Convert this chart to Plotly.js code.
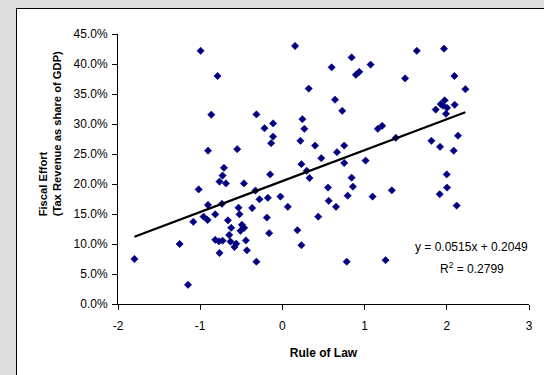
<!DOCTYPE html>
<html>
<head>
<meta charset="utf-8">
<script src="https://cdn.plot.ly/plotly-3.0.1.min.js"></script>
<style>
  html, body { margin: 0; padding: 0; width: 544px; height: 375px; overflow: hidden; background: #dedede; }
  #frame { position: absolute; left: 16px; top: 8px; width: 540px; height: 380px; background: #ffffff;
           border-left: 1px solid #000; border-top: 1px solid #000; }
  #chart { position: absolute; left: 0; top: 0; }
</style>
</head>
<body>
<div id="frame"><div id="chart"></div></div>
<script>
// Rule of Law index (x) and tax revenue as share of GDP (y)
const ruleOfLaw = [
  -0.995, 0.154, -0.789, 0.320, -0.865, -0.316, -0.113, -0.218, 0.243, 0.267,
  -0.113, -0.137, 0.219, -0.905, -0.550, -0.711, 0.231, 0.842, 0.599, 1.635,
  1.966, 1.073, 0.894, 0.935, 1.493, 2.092, 2.226, 0.640, 0.728, 0.397,
  0.473, 0.664, 0.752, 0.752, 1.012, 1.161, 1.214, 1.380, 1.813, 1.918,
  2.084, 2.136, 1.865, 1.926, 1.974, 1.954, 2.003, 1.990, 2.096, -0.728,
  -0.765, -0.687, -1.019, -0.468, -0.149, -0.328, 0.296, 0.330, -0.905, -0.735,
  -0.817, -0.959, -0.910, -1.084, -0.534, -0.522, -0.368, -0.279, -0.177, -0.024,
  0.066, -0.189, -0.161, 0.182, 0.231, -0.663, -0.623, -0.493, -0.465, -0.510,
  -0.647, -0.631, -0.817, -0.772, -0.728, -0.562, -0.583, -0.444, -0.432, -0.765,
  -0.316, -1.250, -1.800, -1.148, 0.436, 0.555, 0.842, 0.858, 0.794, 0.563,
  0.652, 1.097, 1.331, 1.999, 2.003, 1.914, 2.120, 0.782, 1.255
];
const fiscalEffort = [
  0.422, 0.430, 0.380, 0.359, 0.3155, 0.316, 0.301, 0.293, 0.308, 0.292,
  0.279, 0.268, 0.272, 0.2555, 0.258, 0.227, 0.233, 0.411, 0.3945, 0.422,
  0.4255, 0.399, 0.382, 0.387, 0.376, 0.380, 0.358, 0.3405, 0.322, 0.264,
  0.243, 0.253, 0.264, 0.235, 0.239, 0.292, 0.297, 0.277, 0.272, 0.262,
  0.2555, 0.2805, 0.324, 0.333, 0.3395, 0.3305, 0.327, 0.317, 0.332, 0.214,
  0.204, 0.201, 0.191, 0.201, 0.216, 0.189, 0.222, 0.210, 0.165, 0.167,
  0.1495, 0.1455, 0.140, 0.137, 0.1605, 0.1495, 0.160, 0.1745, 0.177, 0.179,
  0.162, 0.144, 0.118, 0.123, 0.098, 0.1395, 0.127, 0.132, 0.127, 0.122,
  0.115, 0.104, 0.107, 0.1045, 0.1055, 0.1005, 0.095, 0.106, 0.0895, 0.085,
  0.0705, 0.100, 0.075, 0.032, 0.1455, 0.194, 0.2105, 0.1955, 0.1805, 0.172,
  0.162, 0.179, 0.1895, 0.216, 0.194, 0.183, 0.164, 0.0705, 0.073
];
// Linear trend line as printed on the chart
const trendSlope = 0.0515;
const trendIntercept = 0.2049;
const rSquared = 0.2799;
const xTicks = [-2, -1, 0, 1, 2, 3];
const yTicks = [0, 0.05, 0.10, 0.15, 0.20, 0.25, 0.30, 0.35, 0.40, 0.45];
const xTitle = 'Rule of Law';
const yTitleLines = ['Fiscal Effort', '(Tax Revenue as share of GDP)'];

const xMin = Math.min(...ruleOfLaw), xMax = Math.max(...ruleOfLaw);
const trendX = [xMin, xMax];
const trendY = trendX.map(v => trendSlope * v + trendIntercept);

const font = 'Arial, "Liberation Sans", sans-serif';

const traces = [
  {
    type: 'scatter', mode: 'markers', x: ruleOfLaw, y: fiscalEffort,
    marker: { symbol: 'diamond', size: 5.6, color: '#000080', line: { color: '#000080', width: 0.6 } },
    hoverinfo: 'x+y', showlegend: false
  },
  {
    type: 'scatter', mode: 'lines', x: trendX, y: trendY,
    line: { color: '#000000', width: 2.2 }, hoverinfo: 'skip', showlegend: false
  }
];

const layout = {
  width: 527, height: 366,
  margin: { l: 101, r: 15, t: 25, b: 71 },
  paper_bgcolor: '#ffffff', plot_bgcolor: '#ffffff',
  font: { family: font, size: 12, color: '#000000' },
  xaxis: {
    range: [-2, 3], tickvals: xTicks, ticktext: xTicks.map(String),
    showgrid: false, zeroline: false, showline: true, linecolor: '#000', linewidth: 1,
    ticks: 'outside', ticklen: 5, tickcolor: '#000', tickwidth: 1, ticklabelstandoff: 6,
    tickfont: { family: font, size: 12, color: '#000' },
    title: { text: '<b>' + xTitle + '</b>', font: { family: font, size: 12, color: '#000' }, standoff: 16 }
  },
  yaxis: {
    range: [0, 0.45], tickvals: yTicks, tickformat: '.1%',
    showgrid: false, zeroline: false, showline: true, linecolor: '#000', linewidth: 1,
    ticks: 'outside', ticklen: 5, tickcolor: '#000', tickwidth: 1, ticklabelstandoff: 2,
    tickfont: { family: font, size: 12, color: '#000' }
  },
  annotations: [
    {
      xref: 'paper', yref: 'paper', x: -0.1655, y: 0.632, xanchor: 'center', yanchor: 'middle',
      text: '<b>' + yTitleLines.join('<br>') + '</b>', textangle: -90, align: 'left', showarrow: false,
      font: { family: font, size: 11.2, color: '#000' }
    },
    {
      xref: 'x', yref: 'y', x: 2.302, y: 0.095, xanchor: 'center', yanchor: 'middle',
      text: 'y = ' + trendSlope.toFixed(4) + 'x + ' + trendIntercept.toFixed(4), showarrow: false,
      font: { family: font, size: 12, color: '#000' }
    },
    {
      xref: 'x', yref: 'y', x: 2.302, y: 0.060, xanchor: 'center', yanchor: 'middle',
      text: 'R<sup>2</sup> = ' + rSquared.toFixed(4), showarrow: false,
      font: { family: font, size: 12, color: '#000' }
    }
  ]
};

Plotly.newPlot('chart', traces, layout, { displayModeBar: false, staticPlot: true });
</script>
</body>
</html>
